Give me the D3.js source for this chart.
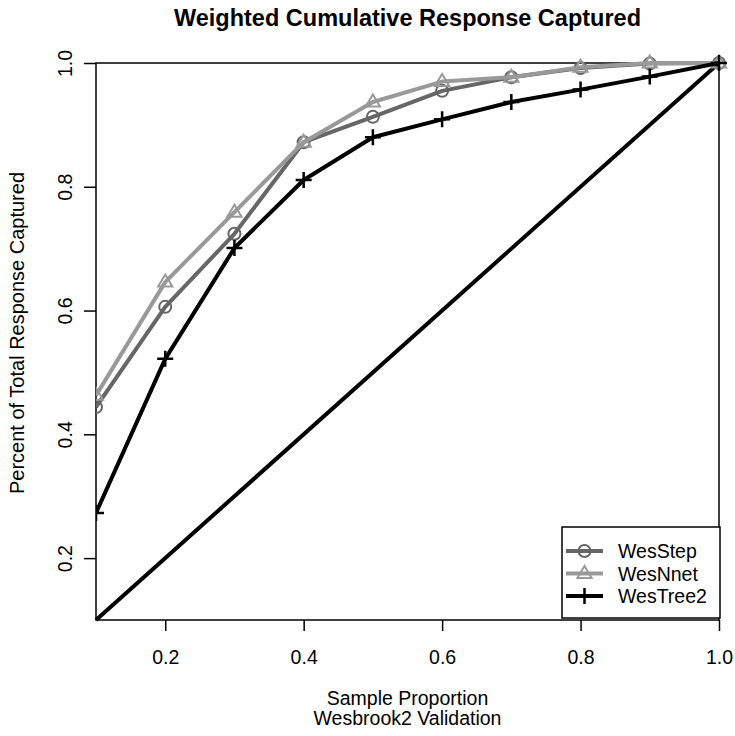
<!DOCTYPE html>
<html>
<head>
<meta charset="utf-8">
<script src="https://cdn.jsdelivr.net/npm/d3@7/dist/d3.min.js"></script>
<style>
  html, body { margin: 0; padding: 0; background: #fff; }
  svg { display: block; }
  text { font-family: "Liberation Sans", Arial, Helvetica, sans-serif; fill: #000; }
</style>
</head>
<body>
<svg id="chart" width="735" height="736"></svg>
<script>
// Sample proportions (deciles)
const proportions = [0.1, 0.2, 0.3, 0.4, 0.5, 0.6, 0.7, 0.8, 0.9, 1.0];

// Weighted cumulative response captured per model
const wesStep  = [0.444, 0.606, 0.724, 0.872, 0.913, 0.955, 0.977, 0.992, 0.999, 1.0];
const wesNnet  = [0.463, 0.646, 0.759, 0.872, 0.937, 0.970, 0.977, 0.993, 1.000, 1.0];
const wesTree2 = [0.273, 0.522, 0.701, 0.811, 0.880, 0.909, 0.937, 0.957, 0.978, 1.0];

// Random-selection baseline
const baseline = [0.1, 1.0];

const seriesNames = ["WesStep", "WesNnet", "WesTree2"];
const xTicks = [0.2, 0.4, 0.6, 0.8, 1.0];
const yTicks = [0.2, 0.4, 0.6, 0.8, 1.0];

const series = [
  { name: seriesNames[0], values: wesStep,  color: "#666666", marker: "circle" },
  { name: seriesNames[1], values: wesNnet,  color: "#999999", marker: "triangle" },
  { name: seriesNames[2], values: wesTree2, color: "#000000", marker: "plus" }
];

const FS = 19.5;       // base text size
const FS_TITLE = 23.5; // main title size

const svg = d3.select("#chart");
const plot = { left: 96, right: 719, top: 63, bottom: 620 };

const x = d3.scaleLinear().domain([0.1, 1.0]).range([plot.left, plot.right]);
const y = d3.scaleLinear().domain([0.1, 1.0]).range([plot.bottom, plot.top]);

// Axes
const xAxis = d3.axisBottom(x).tickValues(xTicks).tickFormat(d3.format(".1f"))
  .tickSize(11).tickPadding(0);
const gx = svg.append("g").attr("transform", `translate(0,${plot.bottom})`).call(xAxis);
gx.select(".domain").remove();
gx.selectAll(".tick line").attr("stroke", "#000").attr("stroke-width", 1.5);
gx.selectAll(".tick text").attr("font-size", FS).attr("font-family", null)
  .attr("y", 44).attr("dy", null);

const yAxis = d3.axisLeft(y).tickValues(yTicks).tickFormat(d3.format(".1f"))
  .tickSize(12).tickPadding(0);
const gy = svg.append("g").attr("transform", `translate(${plot.left},0)`).call(yAxis);
gy.select(".domain").remove();
gy.selectAll(".tick line").attr("stroke", "#000").attr("stroke-width", 1.5);
gy.selectAll(".tick text")
  .attr("font-size", FS).attr("font-family", null)
  .attr("x", null).attr("dy", null)
  .attr("text-anchor", "middle")
  .attr("transform", "translate(-24,0) rotate(-90)");

// Plot frame
svg.append("rect")
  .attr("x", plot.left).attr("y", plot.top)
  .attr("width", plot.right - plot.left).attr("height", plot.bottom - plot.top)
  .attr("fill", "none").attr("stroke", "#000").attr("stroke-width", 1.5);

// Baseline diagonal
svg.append("line")
  .attr("x1", x(baseline[0])).attr("y1", y(baseline[0]))
  .attr("x2", x(baseline[1])).attr("y2", y(baseline[1]))
  .attr("stroke", "#000").attr("stroke-width", 4);

const line = d3.line().x(d => x(d[0])).y(d => y(d[1]));

function drawMarker(g, type, cx, cy, color) {
  if (type === "circle") {
    g.append("circle").attr("cx", cx).attr("cy", cy).attr("r", 6)
      .attr("fill", "none").attr("stroke", color).attr("stroke-width", 2);
  } else if (type === "triangle") {
    const s = 7.5;
    g.append("path")
      .attr("d", `M${cx},${cy - s}L${cx + s * 0.95},${cy + s * 0.6}L${cx - s * 0.95},${cy + s * 0.6}Z`)
      .attr("fill", "none").attr("stroke", color).attr("stroke-width", 2);
  } else {
    const s = 8;
    g.append("path")
      .attr("d", `M${cx - s},${cy}H${cx + s}M${cx},${cy - s}V${cy + s}`)
      .attr("fill", "none").attr("stroke", color).attr("stroke-width", 2.5);
  }
}

svg.append("clipPath").attr("id", "plotclip").append("rect")
  .attr("x", plot.left).attr("y", plot.top - 10)
  .attr("width", plot.right - plot.left + 10).attr("height", plot.bottom - plot.top + 10);

series.forEach(s => {
  const pts = proportions.map((p, i) => [p, s.values[i]]);
  const g = svg.append("g").attr("clip-path", "url(#plotclip)");
  g.append("path").datum(pts).attr("d", line)
    .attr("fill", "none").attr("stroke", s.color)
    .attr("stroke-width", 4).attr("stroke-linejoin", "round");
  pts.forEach(d => drawMarker(g, s.marker, x(d[0]), y(d[1]), s.color));
});

// Legend
const legend = { left: 562, top: 527, right: 720, bottom: 618 };
svg.append("rect")
  .attr("x", legend.left).attr("y", legend.top)
  .attr("width", legend.right - legend.left).attr("height", legend.bottom - legend.top)
  .attr("fill", "#fff").attr("stroke", "#000").attr("stroke-width", 1.5);
series.forEach((s, i) => {
  const cy = 551 + i * 22.5;
  const g = svg.append("g");
  g.append("line").attr("x1", 566).attr("x2", 603).attr("y1", cy).attr("y2", cy)
    .attr("stroke", s.color).attr("stroke-width", 4);
  drawMarker(g, s.marker, 584.5, cy, s.color);
  g.append("text").attr("x", 618).attr("y", cy).attr("dy", "0.36em")
    .attr("font-size", FS).text(s.name);
});

// Titles
svg.append("text")
  .attr("x", (plot.left + plot.right) / 2).attr("y", 26)
  .attr("text-anchor", "middle").attr("font-size", FS_TITLE).attr("font-weight", "bold")
  .text("Weighted Cumulative Response Captured");

svg.append("text")
  .attr("x", (plot.left + plot.right) / 2).attr("y", 705)
  .attr("text-anchor", "middle").attr("font-size", FS)
  .text("Sample Proportion");
svg.append("text")
  .attr("x", (plot.left + plot.right) / 2).attr("y", 725)
  .attr("text-anchor", "middle").attr("font-size", FS)
  .text("Wesbrook2 Validation");

svg.append("text")
  .attr("transform", `translate(24,333) rotate(-90)`)
  .attr("text-anchor", "middle").attr("font-size", 20)
  .text("Percent of Total Response Captured");
</script>
</body>
</html>
